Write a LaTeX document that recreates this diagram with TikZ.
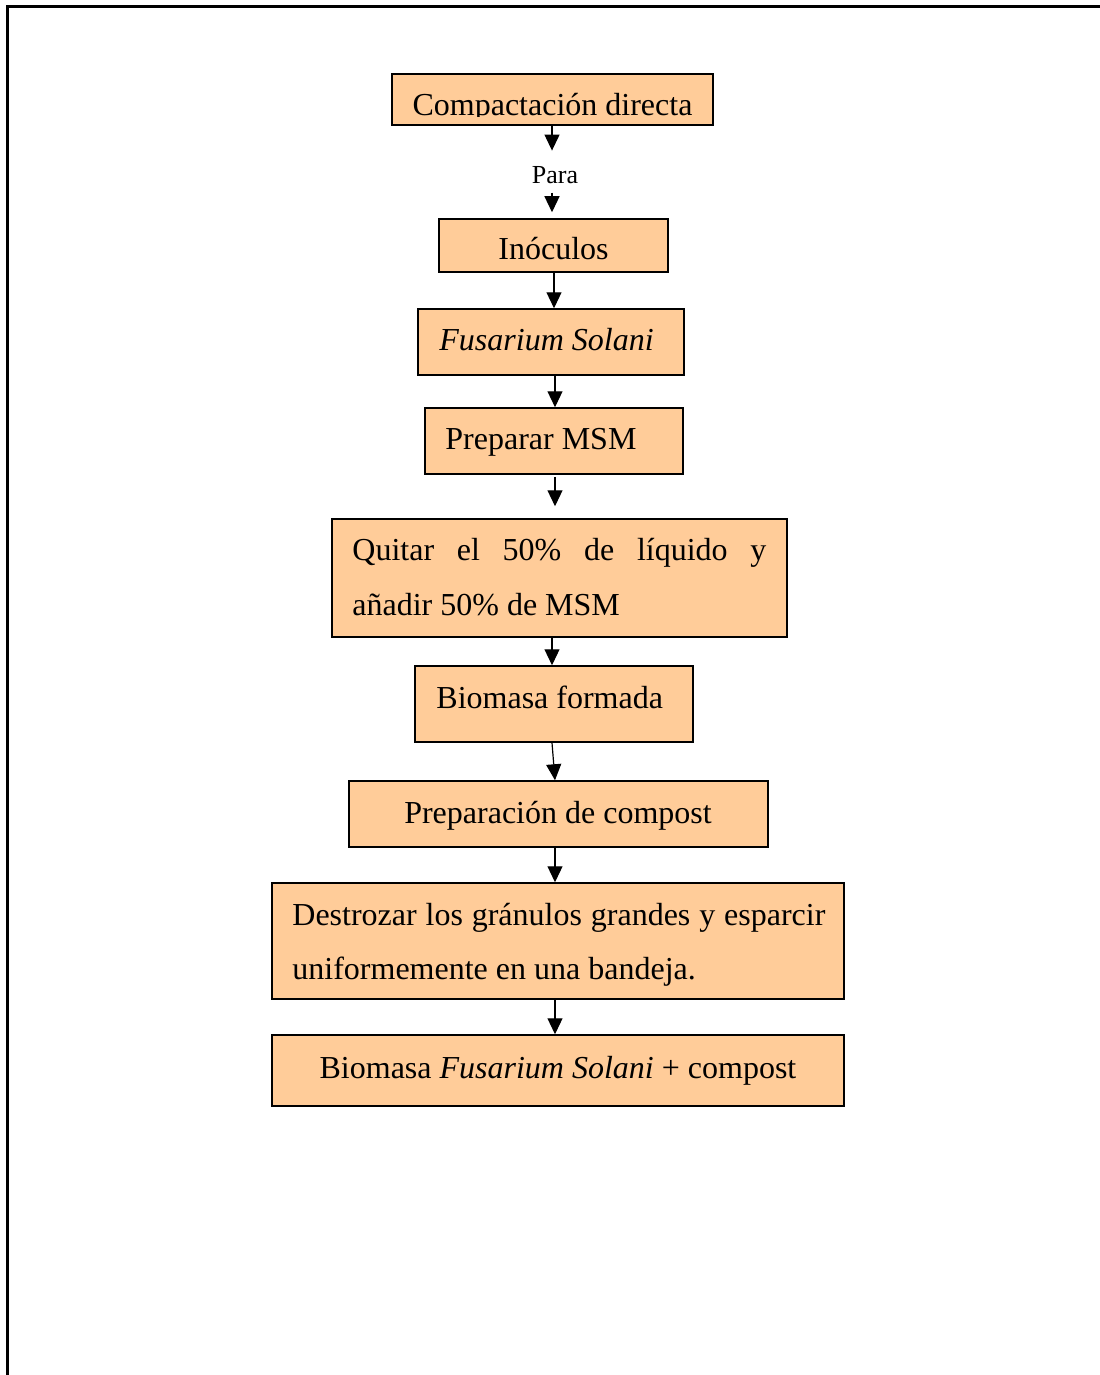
\documentclass[tikz,border=0pt]{standalone}
\usepackage{fontspec}
\setmainfont{Liberation Serif}
\usetikzlibrary{fit,arrows.meta}
\definecolor{peach}{RGB}{255,204,153}
\begin{document}
\begin{tikzpicture}[x=0.5pt,y=-0.5pt,
  box/.style={draw=black, line width=0.75pt, fill=peach, inner sep=0pt},
  txt/.style={inner sep=0pt, font=\fontsize{16}{19}\selectfont},
  arr/.style={line width=0.6pt, -{Triangle[width=7.5pt,length=8pt]}}]
\useasboundingbox (0,0) rectangle (1099,1375);
\draw[line width=1.5pt] (7,1380) -- (7,7) -- (1105,7);

% boxes
\node[box, fit={(392,74)(713,125)}] (b1) {};
\begin{scope}
\clip (392,74) rectangle (713,117);
\node[txt, anchor=base] (t1) at (552.5,116) {Compactación directa};
\end{scope}
\node[inner sep=0pt, font=\fontsize{13}{15}\selectfont, anchor=base] (para) at (555,184) {Para};

\node[box, fit={(439,219)(668,272)}] (b2) {};
\node[txt, anchor=base] (t2) at (553.5,260) {Inóculos};

\node[box, fit={(418,309)(684,375)}] (b3) {};
\node[txt, anchor=base west] (t3) at (439,350) {\itshape Fusarium Solani};

\node[box, fit={(425,408)(683,474)}] (b4) {};
\node[txt, anchor=base west] (t4) at (445,449) {Preparar MSM};

\node[box, fit={(332,519)(787,637)}] (b5) {};
\node[txt, anchor=base west] (t5a) at (352,560) {\makebox[207pt][s]{Quitar el 50\% de líquido y}};
\node[txt, anchor=base west] (t5b) at (352,615) {añadir 50\% de MSM};

\node[box, fit={(415,666)(693,742)}] (b6) {};
\node[txt, anchor=base west] (t6) at (436,708) {Biomasa formada};

\node[box, fit={(349,781)(768,847)}] (b7) {};
\node[txt, anchor=base] (t7) at (558,823) {Preparación de compost};

\node[box, fit={(272,883)(844,999)}] (b8) {};
\node[txt, anchor=base west] (t8a) at (292,925) {\makebox[266.5pt][s]{Destrozar los gránulos grandes y esparcir}};
\node[txt, anchor=base west] (t8b) at (292,979) {uniformemente en una bandeja.};

\node[box, fit={(272,1035)(844,1106)}] (b9) {};
\node[txt, anchor=base] (t9) at (558,1078) {Biomasa \textit{Fusarium Solani} + compost};

% connectors
\coordinate (x552) at (552,0);
\coordinate (x554) at (554,0);
\coordinate (x555) at (555,0);
\draw[arr, shorten >=8pt] (x552 |- b1.south) -- (x552 |- para.north);
\draw[arr, shorten <=4pt, shorten >=3pt] (x552 |- para.south) -- (x552 |- b2.north);
\draw[arr] (x554 |- b2.south) -- (x554 |- b3.north);
\draw[arr] (x555 |- b3.south) -- (x555 |- b4.north);
\draw[arr, shorten <=1pt, shorten >=6pt] (x555 |- b4.south) -- (x555 |- b5.north);
\draw[arr] (x552 |- b5.south) -- (x552 |- b6.north);
\draw[arr] (x552 |- b6.south) -- (x555 |- b7.north);
\draw[arr] (x555 |- b7.south) -- (x555 |- b8.north);
\draw[arr] (x555 |- b8.south) -- (x555 |- b9.north);
\end{tikzpicture}
\end{document}
